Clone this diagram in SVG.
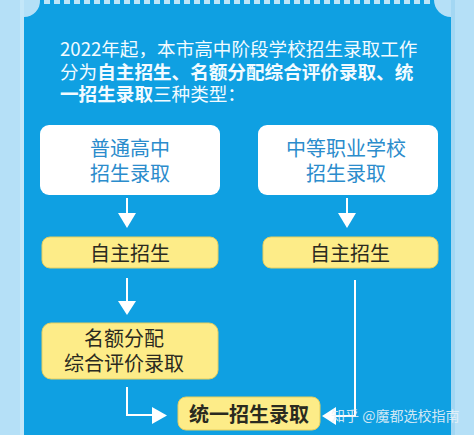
<svg xmlns="http://www.w3.org/2000/svg" width="474" height="435" viewBox="0 0 474 435">
<defs>
<style>
.cjk{font-family:"Noto Sans CJK SC","Liberation Sans",sans-serif}
.intro{font-size:18.6px;fill:#f2fbff}
.b{font-weight:bold}
.white{fill:#ffffff}
.yel{fill:#fdec88;stroke:#e6cf5e;stroke-width:1}
.bt{font-size:20px;fill:#2b8ccc;text-anchor:middle}
.yt{font-size:20px;fill:#2a2a20;text-anchor:middle}
.ln{stroke:#ffffff;stroke-width:2;fill:none}
.ah{fill:#ffffff}
</style>
</defs>
<rect x="0" y="0" width="474" height="435" fill="#b5e0f7"/>
<rect x="20" y="0" width="4" height="435" fill="#c3e7f9"/>
<rect x="451" y="0" width="4" height="435" fill="#a3d7f3"/>
<path d="M40,0 H434 A17,17 0 0 0 451,17 V435 H24 V17 A16,16 0 0 0 40,0 Z" fill="#0fa0e2"/>
<line x1="44" y1="2" x2="430" y2="2" stroke="#bfe5f8" stroke-width="4" stroke-dasharray="6,4"/>
<text class="cjk intro" x="60" y="56">2022年起，本市高中阶段学校招生录取工作</text>
<text class="cjk intro" x="60" y="78.5">分为<tspan class="b">自主招生、名额分配综合评价录取、统</tspan></text>
<text class="cjk intro" x="60" y="101"><tspan class="b">一招生录取</tspan>三种类型：</text>
<g id="connectors">
<line class="ln" x1="127" y1="198" x2="127" y2="214"/>
<polygon class="ah" points="118,213 136,213 127,228"/>
<line class="ln" x1="347" y1="198" x2="347" y2="214"/>
<polygon class="ah" points="338,213 356,213 347,228"/>
<line class="ln" x1="127" y1="278" x2="127" y2="302"/>
<polygon class="ah" points="118,301 136,301 127,315"/>
<polyline class="ln" points="127,387 127,415 153,415"/>
<polygon class="ah" points="152,407 152,424 167,415.5"/>
<polyline class="ln" points="355,280 355,416 334,416"/>
<polygon class="ah" points="336,407 336,425 322,416"/>
</g>
<g id="n1">
<rect class="white" x="40" y="125" width="180" height="70" rx="9"/>
<text class="cjk bt" x="130" y="156">普通高中</text>
<text class="cjk bt" x="130" y="181">招生录取</text>
</g>
<g id="n2">
<rect class="white" x="258" y="125" width="180" height="70" rx="9"/>
<text class="cjk bt" x="346" y="156">中等职业学校</text>
<text class="cjk bt" x="346" y="181">招生录取</text>
</g>
<g id="n3">
<rect class="yel" x="42" y="237" width="176" height="31" rx="8"/>
<text class="cjk yt" x="130" y="261">自主招生</text>
</g>
<g id="n4">
<rect class="yel" x="263" y="237" width="175" height="31" rx="8"/>
<text class="cjk yt" x="350" y="261">自主招生</text>
</g>
<g id="n5">
<rect class="yel" x="42" y="323" width="176" height="56" rx="9"/>
<text class="cjk yt" x="124" y="346">名额分配</text>
<text class="cjk yt" x="124" y="371">综合评价录取</text>
</g>
<g id="n6">
<rect class="yel" x="178" y="397" width="142" height="33" rx="8"/>
<text class="cjk yt b" x="249" y="422">统一招生录取</text>
</g>
<text class="cjk" x="331" y="421" font-size="14" fill="#e8f2f8" fill-opacity="0.9">知乎 @魔都选校指南</text>
</svg>
